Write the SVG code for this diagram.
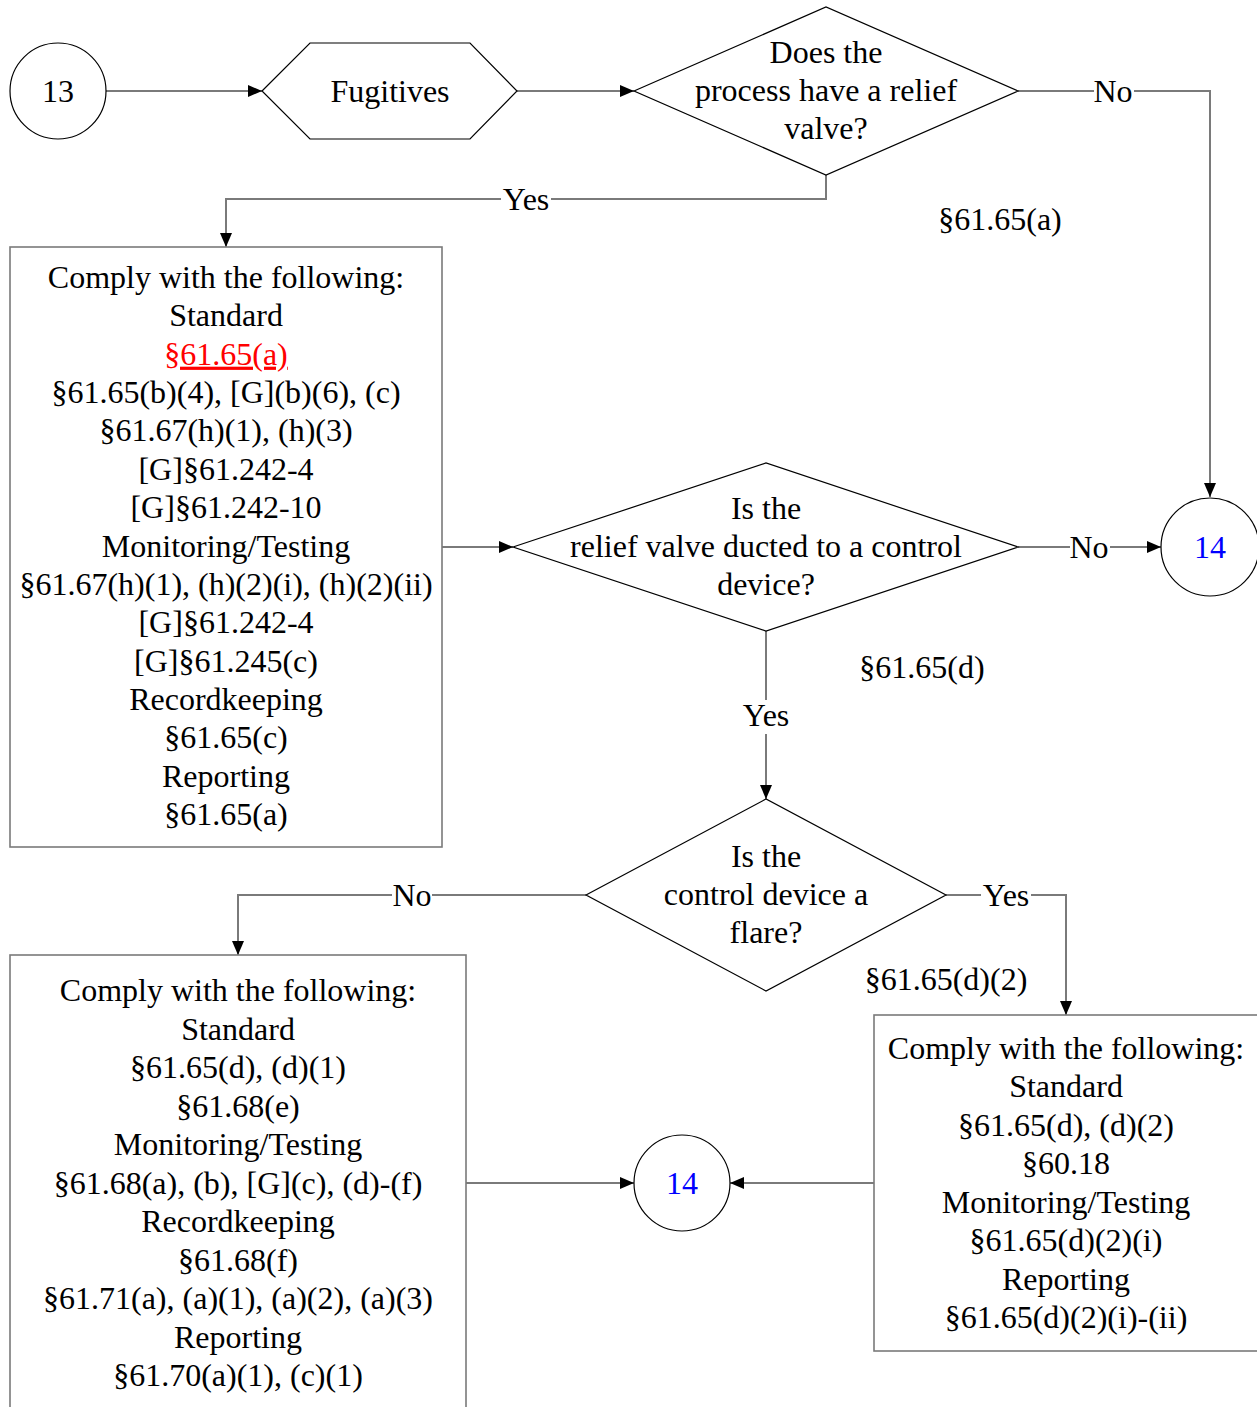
<svg xmlns="http://www.w3.org/2000/svg" width="1257" height="1407" viewBox="0 0 1257 1407">
<style>
text{font-family:"Liberation Serif","Times New Roman",serif;font-size:32px;fill:#000;text-anchor:middle}
.shape{fill:#fff;stroke:#000;stroke-width:1.2}
.box{fill:#fff;stroke:#7a7a7a;stroke-width:1.6}
.conn{fill:none;stroke:#7a7a7a;stroke-width:2}
.lbg{fill:#fff}
.blue{fill:#0000ff}
.red{fill:#ff0000;text-decoration:underline}
</style>
<defs>
<marker id="arr" markerUnits="userSpaceOnUse" markerWidth="14" markerHeight="12" refX="14" refY="6" orient="auto">
<path d="M0,0 L14,6 L0,12 z" fill="#000"/>
</marker>
</defs>
<rect width="1257" height="1407" fill="#fff"/>
<g id="connectors">
<path class="conn" d="M106 91 H262" marker-end="url(#arr)"/>
<path class="conn" d="M517 91 H634" marker-end="url(#arr)"/>
<path class="conn" d="M826 175 V199 H226 V247" marker-end="url(#arr)"/>
<path class="conn" d="M1018 91 H1210 V497" marker-end="url(#arr)"/>
<path class="conn" d="M442 547 H513" marker-end="url(#arr)"/>
<path class="conn" d="M1018 547 H1161" marker-end="url(#arr)"/>
<path class="conn" d="M766 631 V799" marker-end="url(#arr)"/>
<path class="conn" d="M586 895 H238 V955" marker-end="url(#arr)"/>
<path class="conn" d="M946 895 H1066 V1015" marker-end="url(#arr)"/>
<path class="conn" d="M466 1183 H634" marker-end="url(#arr)"/>
<path class="conn" d="M874 1183 H730" marker-end="url(#arr)"/>
<rect class="lbg" x="501" y="186" width="50" height="26"/>
<text x="526" y="210">Yes</text>
<rect class="lbg" x="1094" y="78" width="40" height="26"/>
<text x="1113" y="102">No</text>
<rect class="lbg" x="1070" y="534" width="40" height="26"/>
<text x="1089" y="558">No</text>
<rect class="lbg" x="740" y="700" width="52" height="34"/>
<text x="766" y="726">Yes</text>
<rect class="lbg" x="392" y="882" width="40" height="26"/>
<text x="412" y="906">No</text>
<rect class="lbg" x="981" y="882" width="50" height="26"/>
<text x="1006" y="906">Yes</text>
</g>
<g id="n13">
<circle class="shape" cx="58" cy="91" r="48"/>
<text x="58" y="102">13</text>
</g>
<g id="fugitives">
<polygon class="shape" points="262,91 310,43 470,43 517,91 470,139 310,139"/>
<text x="390" y="102">Fugitives</text>
</g>
<g id="q-relief">
<polygon class="shape" points="634,91 826,7 1018,91 826,175"/>
<text x="826" y="63">Does the</text>
<text x="826" y="101">process have a relief</text>
<text x="826" y="139">valve?</text>
</g>
<g id="ref-a">
<text x="1000" y="230">§61.65(a)</text>
</g>
<g id="box1">
<rect class="box" x="10" y="247" width="432" height="600"/>
<text x="226" y="288">Comply with the following:</text>
<text x="226" y="326.4">Standard</text>
<text x="226" y="364.7" class="red">§61.65(a)</text>
<text x="226" y="403.1">§61.65(b)(4), [G](b)(6), (c)</text>
<text x="226" y="441.4">§61.67(h)(1), (h)(3)</text>
<text x="226" y="479.8">[G]§61.242-4</text>
<text x="226" y="518.2">[G]§61.242-10</text>
<text x="226" y="556.5">Monitoring/Testing</text>
<text x="226" y="594.9">§61.67(h)(1), (h)(2)(i), (h)(2)(ii)</text>
<text x="226" y="633.2">[G]§61.242-4</text>
<text x="226" y="671.6">[G]§61.245(c)</text>
<text x="226" y="710">Recordkeeping</text>
<text x="226" y="748.3">§61.65(c)</text>
<text x="226" y="786.7">Reporting</text>
<text x="226" y="825">§61.65(a)</text>
</g>
<g id="q-ducted">
<polygon class="shape" points="513,547 766,463 1018,547 766,631"/>
<text x="766" y="519">Is the</text>
<text x="766" y="557">relief valve ducted to a control</text>
<text x="766" y="595">device?</text>
</g>
<g id="n14a">
<circle class="shape" cx="1210" cy="547" r="49"/>
<text x="1210" y="558" class="blue">14</text>
</g>
<g id="ref-d">
<text x="922" y="678">§61.65(d)</text>
</g>
<g id="q-flare">
<polygon class="shape" points="586,895 766,799 946,895 766,991"/>
<text x="766" y="867">Is the</text>
<text x="766" y="905">control device a</text>
<text x="766" y="943">flare?</text>
</g>
<g id="ref-d2">
<text x="946" y="990">§61.65(d)(2)</text>
</g>
<g id="box2">
<rect class="box" x="10" y="955" width="456" height="470"/>
<text x="238" y="1001">Comply with the following:</text>
<text x="238" y="1039.5">Standard</text>
<text x="238" y="1078">§61.65(d), (d)(1)</text>
<text x="238" y="1116.5">§61.68(e)</text>
<text x="238" y="1155">Monitoring/Testing</text>
<text x="238" y="1193.5">§61.68(a), (b), [G](c), (d)-(f)</text>
<text x="238" y="1232">Recordkeeping</text>
<text x="238" y="1270.5">§61.68(f)</text>
<text x="238" y="1309">§61.71(a), (a)(1), (a)(2), (a)(3)</text>
<text x="238" y="1347.5">Reporting</text>
<text x="238" y="1386">§61.70(a)(1), (c)(1)</text>
</g>
<g id="n14b">
<circle class="shape" cx="682" cy="1183" r="48"/>
<text x="682" y="1194" class="blue">14</text>
</g>
<g id="box3">
<rect class="box" x="874" y="1015" width="384" height="336"/>
<text x="1066" y="1059">Comply with the following:</text>
<text x="1066" y="1097.4">Standard</text>
<text x="1066" y="1135.9">§61.65(d), (d)(2)</text>
<text x="1066" y="1174.3">§60.18</text>
<text x="1066" y="1212.7">Monitoring/Testing</text>
<text x="1066" y="1251.1">§61.65(d)(2)(i)</text>
<text x="1066" y="1289.6">Reporting</text>
<text x="1066" y="1328">§61.65(d)(2)(i)-(ii)</text>
</g>
</svg>
